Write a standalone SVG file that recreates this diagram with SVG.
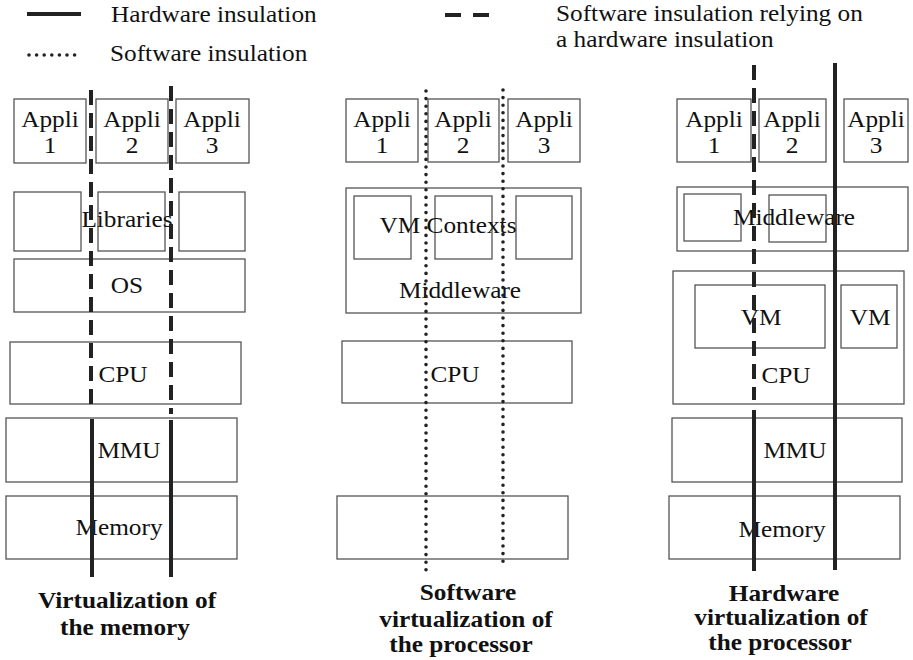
<svg xmlns="http://www.w3.org/2000/svg" width="913" height="660" viewBox="0 0 913 660">
<style>
.box{fill:#fff;stroke:#555;stroke-width:1.3}
.t{font-family:"Liberation Serif","Times New Roman",serif;font-size:23px;fill:#111;text-anchor:middle}
.ts{font-family:"Liberation Serif","Times New Roman",serif;font-size:23px;fill:#111}
.b{font-family:"Liberation Serif","Times New Roman",serif;font-size:23px;font-weight:bold;fill:#111;text-anchor:middle}
.hw{stroke:#222;stroke-width:4;fill:none}
.sh{stroke:#222;stroke-width:4;fill:none;stroke-dasharray:15 8}
.sw{stroke:#222;stroke-width:3.6;fill:none;stroke-dasharray:0 7.6;stroke-linecap:round}
</style>
<rect width="913" height="660" fill="#fff"/>
<g id="legend">
<line class="hw" x1="27" y1="14" x2="81" y2="14" stroke-width="3.4"/>
<text class="ts" transform="translate(111,22) scale(1.1,1)">Hardware insulation</text>
<line class="sw" x1="29" y1="55" x2="80" y2="55" stroke-dasharray="0 8.1"/>
<text class="ts" transform="translate(110,61) scale(1.1,1)">Software insulation</text>
<line class="hw" x1="445" y1="15" x2="461" y2="15"/>
<line class="hw" x1="473" y1="15" x2="489" y2="15"/>
<text class="ts" transform="translate(556,21) scale(1.1,1)">Software insulation relying on</text>
<text class="ts" transform="translate(556,47) scale(1.1,1)">a hardware insulation</text>
</g>
<g id="panel-memory">
<g id="m-appli1"><rect class="box" x="14" y="99" width="72" height="64"/><text class="t" transform="translate(50,127) scale(1.1,1)">Appli</text><text class="t" transform="translate(50,153) scale(1.1,1)">1</text></g>
<g id="m-appli2"><rect class="box" x="96" y="99" width="72" height="64"/><text class="t" transform="translate(132,127) scale(1.1,1)">Appli</text><text class="t" transform="translate(132,153) scale(1.1,1)">2</text></g>
<g id="m-appli3"><rect class="box" x="176" y="99" width="73" height="64"/><text class="t" transform="translate(212,127) scale(1.1,1)">Appli</text><text class="t" transform="translate(212,153) scale(1.1,1)">3</text></g>
<g id="m-libraries"><rect class="box" x="14" y="192" width="67" height="59"/><rect class="box" x="98" y="192" width="67" height="59"/><rect class="box" x="179" y="192" width="66" height="59"/><text class="t" transform="translate(127,227) scale(1.1,1)">Libraries</text></g>
<g id="m-os"><rect class="box" x="14" y="259" width="231" height="53"/><text class="t" transform="translate(127,293) scale(1.1,1)">OS</text></g>
<g id="m-cpu"><rect class="box" x="10" y="342" width="231" height="62"/><text class="t" transform="translate(123,382) scale(1.1,1)">CPU</text></g>
<g id="m-mmu"><rect class="box" x="6" y="418" width="231" height="64"/><text class="t" transform="translate(129,458) scale(1.1,1)">MMU</text></g>
<g id="m-memory"><rect class="box" x="6" y="496" width="231" height="63"/><text class="t" transform="translate(119,535) scale(1.1,1)">Memory</text></g>
<g id="m-title"><text class="b" transform="translate(127,608) scale(1.1,1)">Virtualization of</text><text class="b" transform="translate(125,635) scale(1.1,1)">the memory</text></g>
</g>
<g id="panel-sw">
<g id="s-appli1"><rect class="box" x="346" y="99" width="72" height="63"/><text class="t" transform="translate(382,127) scale(1.1,1)">Appli</text><text class="t" transform="translate(382,153) scale(1.1,1)">1</text></g>
<g id="s-appli2"><rect class="box" x="428" y="99" width="71" height="63"/><text class="t" transform="translate(463,127) scale(1.1,1)">Appli</text><text class="t" transform="translate(463,153) scale(1.1,1)">2</text></g>
<g id="s-appli3"><rect class="box" x="508" y="99" width="72" height="63"/><text class="t" transform="translate(544,127) scale(1.1,1)">Appli</text><text class="t" transform="translate(544,153) scale(1.1,1)">3</text></g>
<g id="s-middleware"><rect class="box" x="346" y="188" width="235" height="125"/><rect class="box" x="354" y="196" width="57" height="63"/><rect class="box" x="435" y="196" width="57" height="63"/><rect class="box" x="516" y="196" width="56" height="63"/><text class="t" transform="translate(448,233) scale(1.1,1)">VM Contexts</text><text class="t" transform="translate(460,298) scale(1.1,1)">Middleware</text></g>
<g id="s-cpu"><rect class="box" x="342" y="341" width="230" height="62"/><text class="t" transform="translate(455,382) scale(1.1,1)">CPU</text></g>
<g id="s-memory"><rect class="box" x="337" y="496" width="231" height="63"/></g>
<g id="s-title"><text class="b" transform="translate(468,600) scale(1.1,1)">Software</text><text class="b" transform="translate(466,627) scale(1.1,1)">virtualization of</text><text class="b" transform="translate(461,652) scale(1.1,1)">the processor</text></g>
</g>
<g id="panel-hw">
<g id="h-appli1"><rect class="box" x="677" y="99" width="74" height="63"/><text class="t" transform="translate(714,127) scale(1.1,1)">Appli</text><text class="t" transform="translate(714,153) scale(1.1,1)">1</text></g>
<g id="h-appli2"><rect class="box" x="759" y="99" width="67" height="63"/><text class="t" transform="translate(792,127) scale(1.1,1)">Appli</text><text class="t" transform="translate(792,153) scale(1.1,1)">2</text></g>
<g id="h-appli3"><rect class="box" x="844" y="99" width="64" height="63"/><text class="t" transform="translate(876,127) scale(1.1,1)">Appli</text><text class="t" transform="translate(876,153) scale(1.1,1)">3</text></g>
<g id="h-middleware"><rect class="box" x="677" y="187" width="231" height="64"/><rect class="box" x="684" y="194" width="57" height="47"/><rect class="box" x="769" y="195" width="57" height="47"/><text class="t" transform="translate(794,225) scale(1.1,1)">Middleware</text></g>
<g id="h-cpu"><rect class="box" x="673" y="271" width="231" height="133"/><rect class="box" x="695" y="285" width="130" height="63"/><rect class="box" x="841" y="285" width="56" height="63"/><text class="t" transform="translate(761,325) scale(1.1,1)">VM</text><text class="t" transform="translate(870,325) scale(1.1,1)">VM</text><text class="t" transform="translate(786,383) scale(1.1,1)">CPU</text></g>
<g id="h-mmu"><rect class="box" x="672" y="418" width="230" height="64"/><text class="t" transform="translate(795,458) scale(1.1,1)">MMU</text></g>
<g id="h-memory"><rect class="box" x="669" y="496" width="231" height="63"/><text class="t" transform="translate(782,537) scale(1.1,1)">Memory</text></g>
<g id="h-title"><text class="b" transform="translate(784,601) scale(1.1,1)">Hardware</text><text class="b" transform="translate(781,625) scale(1.1,1)">virtualization of</text><text class="b" transform="translate(780,650) scale(1.1,1)">the processor</text></g>
</g>
<g id="connectors">
<line class="sh" x1="91" y1="90" x2="91" y2="412"/>
<line class="hw" x1="92" y1="419" x2="92" y2="577"/>
<line class="sh" x1="171" y1="86" x2="171" y2="414"/>
<line class="hw" x1="171" y1="420" x2="171" y2="577"/>
<line class="sw" x1="426" y1="91" x2="426" y2="571"/>
<line class="sw" x1="503" y1="90" x2="503" y2="563"/>
<line class="sh" x1="754" y1="65" x2="754" y2="400"/>
<line class="hw" x1="754" y1="410" x2="754" y2="571"/>
<line class="hw" x1="835" y1="63" x2="835" y2="570"/>
</g>
</svg>
